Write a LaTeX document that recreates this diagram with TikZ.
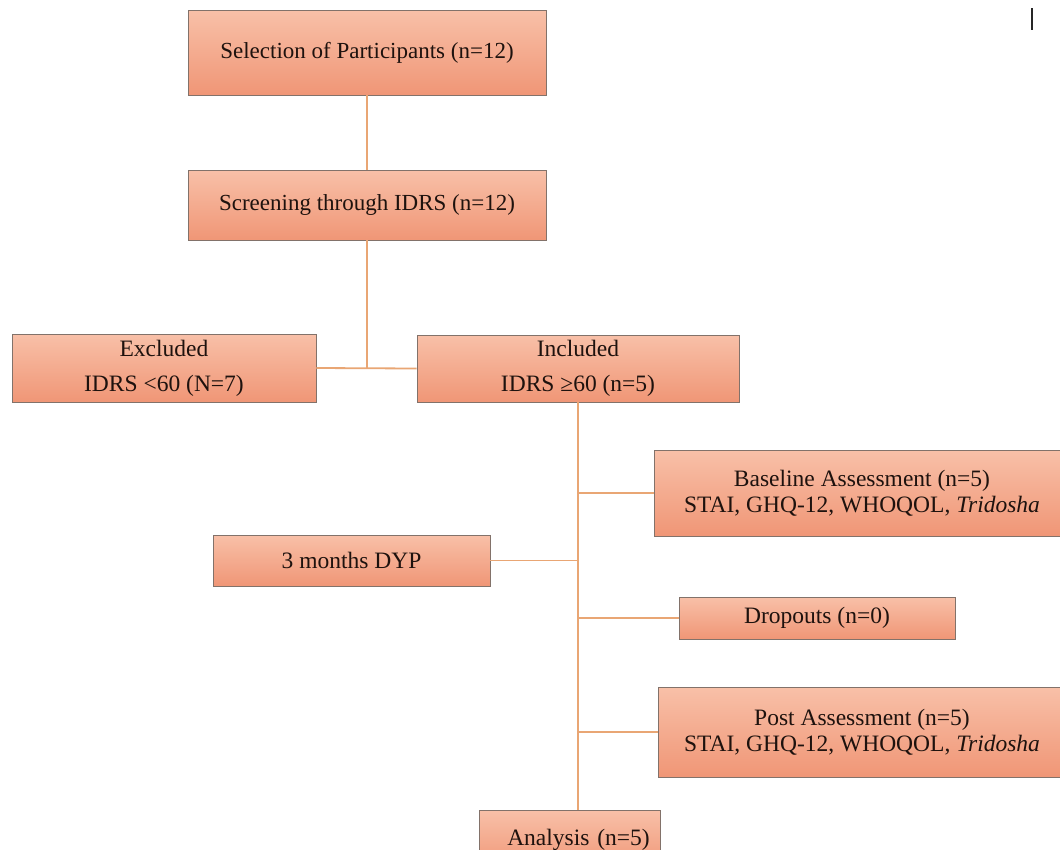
\documentclass[tikz,border=0pt]{standalone}
\usepackage{fontspec}
\setmainfont{Liberation Serif}
\definecolor{boxtop}{RGB}{248,192,168}
\definecolor{boxbot}{RGB}{240,150,118}
\definecolor{boxline}{RGB}{130,114,106}
\definecolor{conn}{RGB}{233,166,116}
\definecolor{txt}{RGB}{30,18,14}
\begin{document}
\begin{tikzpicture}[x=1pt,y=-1pt,
  stage/.style={draw=boxline, line width=0.9pt, top color=boxtop, bottom color=boxbot,
     inner sep=0pt, align=center, text=txt, font=\fontsize{23.5}{35}\selectfont},
  wire/.style={draw=conn, line width=1.8pt}]
\useasboundingbox (0,0) rectangle (1060,849);
\fill[white] (0,0) rectangle (1060,849);

\node[stage, minimum width=358pt, minimum height=85pt, font=\fontsize{23}{30}\selectfont] (sel) at (367,52.5) {Selection of Participants (n=12)};
\node[stage, minimum width=358pt, minimum height=70pt, font=\fontsize{23}{30}\selectfont] (scr) at (367,205) {Screening through IDRS (n=12)};
\node[stage, minimum width=304pt, minimum height=68pt] (exc) at (164,368) {Excluded\\IDRS <60 (N=7)};
\node[stage, minimum width=322pt, minimum height=67pt] (inc) at (578,368.5) {Included\\IDRS ≥60 (n=5)};
\node[stage, minimum width=416pt, minimum height=86pt, font=\fontsize{23.5}{26}\selectfont] (base) at (862,493) {Baseline Assessment (n=5)\\STAI, GHQ-12, WHOQOL, \textit{Tridosha}};
\node[stage, minimum width=277pt, minimum height=51pt] (dyp) at (351.5,560.5) {3 months DYP};
\node[stage, minimum width=276pt, minimum height=42pt] (drop) at (817,618) {Dropouts (n=0)};
\node[stage, minimum width=408pt, minimum height=90pt, font=\fontsize{23.5}{26}\selectfont] (post) at (862,732) {Post Assessment (n=5)\\STAI, GHQ-12, WHOQOL, \textit{Tridosha}};
\node[stage, minimum width=181pt, minimum height=60pt, text width=181pt] (ana) at (569.5,840) {\hspace*{18pt}Analysis (n=5)};

\draw[wire] (sel.south) -- (scr.north);
\draw[wire] (scr.south) -- (scr.south |- exc.east);
\draw[wire] (exc.east) -- (inc.west);
\draw[wire] (inc.south) -- (inc.south |- ana.north);
\draw[wire] (inc.south |- base.west) -- (base.west);
\draw[wire] (dyp.east) -- (dyp.east -| inc.south);
\draw[wire] (inc.south |- drop.west) -- (drop.west);
\draw[wire] (inc.south |- post.west) -- (post.west);

\draw[black!85, line width=2pt] (1032,8) -- (1032,30);
\end{tikzpicture}
\end{document}
